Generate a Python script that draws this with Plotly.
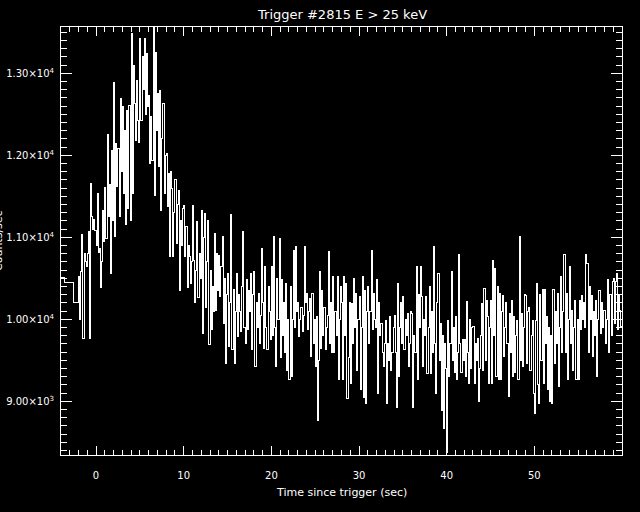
import numpy as np
import plotly.graph_objects as go

# ---- data ----
title_text = "Trigger #2815 E > 25 keV"
x_title = "Time since trigger (sec)"
y_title = "Counts/sec"

# coarse pre-trigger bins (start times, sec) and rates (counts/sec)
pre_start = [-4.6, -3.6, -2.55]
pre_rate = [10507, 10451, 10207]

# fine bins starting at t0 with width dt
fine_t0 = -2.0
fine_dt = 0.125
fine_rate = [
    10520, 10000, 10580, 11040, 9760, 10800, 10700, 10650,   # -2
    10800, 11075, 9760, 11660, 11250, 11100, 11220, 11080,   # -1
    10900, 11530, 10820, 10860, 10390, 10700, 11330, 10950,  # 0
    11610, 10980, 12260, 11250, 11650, 10560, 12060, 11200,  # 1
    12890, 11010, 12150, 11620, 12080, 11250, 12690, 11800,  # 2
    12590, 11530, 12300, 11160, 12550, 11350, 12610, 11200,  # 3
    13490, 11530, 13100, 12630, 12180, 12910, 12420, 12160,  # 4
    13420, 12430, 13200, 12800, 13420, 12500, 13240, 12600,  # 5
    12730, 11900, 12470, 11940, 13600, 11510, 13250, 12300,  # 6
    12750, 11860, 12790, 11330, 12200, 12630, 11530, 12000,  # 7
    12020, 11370, 11780, 10760, 11800, 11600, 10770, 11300,  # 8
    11700, 10920, 11400, 11570, 10350, 11200, 10900, 11350,  # 9
    11390, 10760, 11130, 10390, 10900, 10760, 10440, 10700,  # 10
    11390, 10720, 10210, 10600, 11190, 10270, 10800, 10500,  # 11
    11330, 9830, 11000, 11290, 10150, 10700, 11210, 9690,    # 12
    10600, 9870, 10400, 10100, 11050, 10110, 10800, 10350,   # 13
    10780, 10280, 10650, 11010, 9950, 10500, 9460, 10300,    # 14
    10560, 9670, 10200, 11280, 9630, 10360, 9460, 10100,     # 15
    10560, 9790, 10300, 10100, 9850, 10400, 11070, 9900,     # 16
    9700, 10480, 9870, 10350, 10100, 10560, 9630, 10300,     # 17
    10580, 9420, 10200, 9900, 10320, 9710, 10050, 10865,     # 18
    10200, 9650, 10640, 9900, 9630, 10400, 10100, 9750,      # 19
    10640, 9800, 11015, 9900, 9420, 10500, 10000, 10990,     # 20
    9540, 10480, 9800, 10200, 9600, 10440, 9380, 10000,      # 21
    9260, 10400, 9300, 10000, 10845, 9900, 10885, 10100,     # 22
    10200, 9790, 10000, 10150, 9850, 10050, 10890, 10200,    # 23
    10320, 9870, 10100, 10250, 9550, 10320, 9700, 10000,     # 24
    9420, 10030, 8770, 9500, 10580, 9650, 10350, 9800,       # 25
    10150, 9630, 9900, 10050, 10830, 9700, 10200, 9600,      # 26
    10520, 9590, 10100, 9800, 10520, 9260, 10000, 10400,     # 27
    10200, 9260, 10520, 9800, 10440, 9035, 9540, 10200,      # 28
    9220, 10195, 9700, 10500, 9900, 10315, 9380, 10000,      # 29
    10275, 9140, 9900, 10520, 9050, 10355, 8975, 10100,      # 30
    10400, 9710, 10100, 10845, 9870, 10315, 10000, 9900,     # 31
    10480, 9100, 10200, 9800, 9950, 9600, 9420, 9700,        # 32
    9990, 8975, 9700, 9500, 10030, 9380, 9600, 9900,         # 33
    10050, 9600, 8930, 10440, 9300, 9900, 10200, 9700,       # 34
    10275, 9630, 10000, 9800, 10070, 9420, 9700, 10100,      # 35
    10070, 8930, 9800, 9600, 10640, 9260, 10300, 9900,       # 36
    10650, 10275, 9420, 10000, 9800, 10275, 9340, 9900,      # 37
    10400, 9340, 10100, 9600, 10885, 9700, 9100, 10200,      # 38
    10560, 9500, 9950, 8890, 9800, 8670, 9700, 9400,         # 39
    8380, 9990, 9300, 9700, 10580, 9500, 9900, 9350,         # 40
    10030, 9260, 9600, 10785, 9700, 9350, 9750, 9500,        # 41
    9750, 9300, 10215, 9600, 9220, 10000, 9400, 9900,        # 42
    9910, 9220, 9700, 9500, 9770, 9000, 9400, 9800,          # 43
    10195, 9380, 10380, 9500, 10235, 10030, 9220, 9900,      # 44
    10235, 9220, 10720, 9800, 10620, 9300, 10400, 9260,      # 45
    10315, 9260, 10100, 10295, 9545, 9900, 10200, 9700,      # 46
    9055, 10070, 9600, 10235, 9300, 10030, 9350, 9800,       # 47
    9990, 9260, 11015, 9500, 10070, 9420, 9900, 10300,       # 48
    10295, 9460, 10100, 10150, 9380, 9800, 9990, 9100,       # 49
    8850, 9990, 10440, 9200, 8975, 10300, 9500, 10360,       # 50
    9220, 10360, 9700, 10030, 9140, 9900, 9000, 9800,        # 51
    8975, 10360, 9460, 10100, 9700, 10315, 9180, 9900,       # 52
    10520, 9590, 10100, 10785, 9600, 10315, 9260, 10000,     # 53
    10640, 9700, 10110, 9380, 9900, 10235, 9260, 10000,      # 54
    9260, 10235, 9870, 10295, 10000, 10200, 9900, 10795,     # 55
    10680, 9590, 10400, 10000, 10295, 9545, 10100, 9800,     # 56
    10235, 9300, 10000, 10355, 9830, 10200, 9900, 10110,     # 57
    10110, 9700, 10000, 10480, 9590, 10300, 9800, 10460,     # 58
    10500, 9950, 10460, 10560, 9870, 10300, 10110, 9910,     # 59
]

# axis ticks
x_range = [-4, 60]
y_range = [8345, 13565]
y_tickvals = [9000, 10000, 11000, 12000, 13000]
y_ticktext = ["9.00×10<sup>3</sup>", "1.00×10<sup>4</sup>", "1.10×10<sup>4</sup>",
              "1.20×10<sup>4</sup>", "1.30×10<sup>4</sup>"]
x_tickvals = [0, 10, 20, 30, 40, 50]
x_ticktext = ["0", "10", "20", "30", "40", "50"]

# ---- build step histogram ----
fine_start = fine_t0 + fine_dt * np.arange(len(fine_rate))
t_end = fine_t0 + fine_dt * len(fine_rate)
xs = list(pre_start) + list(fine_start) + [t_end]
ys = list(pre_rate) + list(fine_rate) + [fine_rate[-1]]

FONT = "DejaVu Sans"
fig = go.Figure()
fig.add_trace(go.Scatter(x=xs, y=ys, mode="lines", line_shape="hv",
                         line=dict(color="white", width=1), hoverinfo="skip"))

fig.update_layout(
    width=640, height=512,
    paper_bgcolor="black", plot_bgcolor="black",
    margin=dict(l=61, r=18, t=27, b=57, autoexpand=False),
    showlegend=False,
    font=dict(family=FONT, color="white", size=11),
)
fig.update_xaxes(
    range=x_range, showgrid=False, zeroline=False, automargin=False,
    showline=True, linecolor="white", linewidth=1, mirror="allticks",
    ticks="inside", ticklen=9, tickcolor="white", tickwidth=1,
    tickvals=x_tickvals, ticktext=x_ticktext,
    tickfont=dict(family=FONT, size=10, color="white"),
    minor=dict(ticks="inside", ticklen=5, dtick=1, tickcolor="white", tickwidth=1, showgrid=False),
    ticklabelstandoff=11,
)
fig.update_yaxes(
    range=y_range, showgrid=False, zeroline=False, automargin=False,
    showline=True, linecolor="white", linewidth=1, mirror="allticks",
    ticks="inside", ticklen=11, tickcolor="white", tickwidth=1,
    tickvals=y_tickvals, ticktext=y_ticktext,
    tickfont=dict(family=FONT, size=10, color="white"),
    minor=dict(ticks="inside", ticklen=6, dtick=100, tick0=0, tickcolor="white", tickwidth=1, showgrid=False),
    ticklabelstandoff=4,
)

fig.add_annotation(text=title_text, xref="paper", yref="paper", x=0.5, y=1.0,
                   yshift=13, showarrow=False, xanchor="center", yanchor="middle",
                   font=dict(family=FONT, size=13, color="white"))
fig.add_annotation(text=x_title, xref="paper", yref="paper", x=0.5, y=0.0,
                   yshift=-37, showarrow=False, xanchor="center", yanchor="middle",
                   font=dict(family=FONT, size=11, color="white"))
fig.add_annotation(text=y_title, xref="paper", yref="paper", x=0.0, y=0.5,
                   xshift=-63, yshift=0, textangle=-90, showarrow=False,
                   xanchor="center", yanchor="middle",
                   font=dict(family=FONT, size=11, color="white"))

post = (
    "document.body.style.margin='0';"
    "document.body.style.background='black';"
    "var s=document.createElement('style');"
    "s.textContent='.scatterlayer path{shape-rendering:crispEdges !important;}';"
    "document.head.appendChild(s);"
)
fig.write_html("out.html", config={"displayModeBar": False}, post_script=post)
